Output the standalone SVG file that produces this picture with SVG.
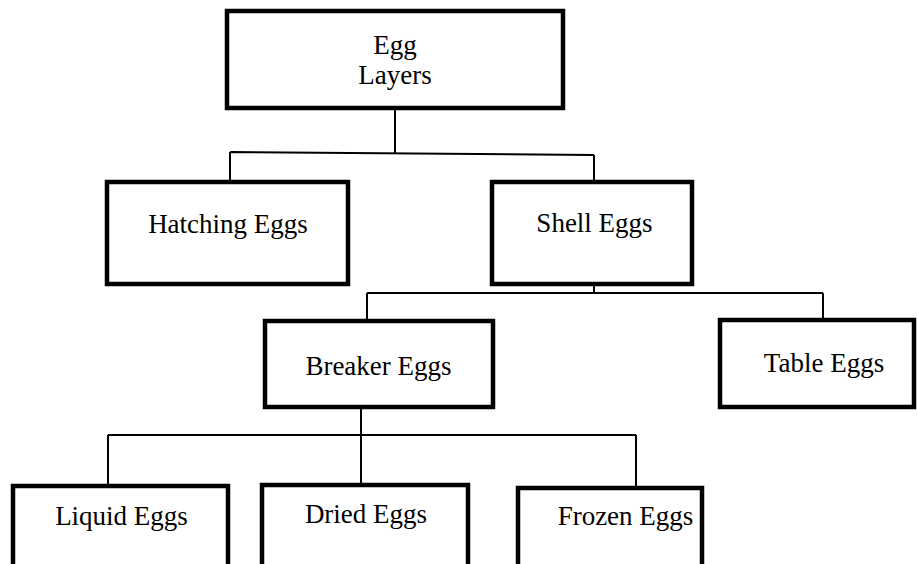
<svg xmlns="http://www.w3.org/2000/svg" width="917" height="564" viewBox="0 0 917 564">
<style>
.box{fill:#fff;stroke:#000;stroke-width:4.5}
.lbl{font-family:"Liberation Serif","Times New Roman",serif;font-size:27px;fill:#000;text-anchor:middle}
.con{fill:none;stroke:#000;stroke-width:2}
</style>
<rect width="917" height="564" fill="#fff"/>
<g id="connectors">
<path class="con" d="M395 108 V153 M230 152 L594 155 M230 152 V181 M594 155 V181"/>
<path class="con" d="M594 285 V293 M367 293 H823 M367 293 V321 M823 293 V320"/>
<path class="con" d="M361 407 V435 M108 435 H636 M108 435 V485 M361 435 V484 M636 435 V487"/>
</g>
<g id="egg-layers">
<rect class="box" x="227" y="11" width="336" height="97"/>
<text class="lbl" x="395" y="54">Egg</text>
<text class="lbl" x="395" y="84">Layers</text>
</g>
<g id="hatching-eggs">
<rect class="box" x="107" y="182" width="241" height="102"/>
<text class="lbl" x="228" y="233">Hatching Eggs</text>
</g>
<g id="shell-eggs">
<rect class="box" x="492" y="182" width="200" height="102"/>
<text class="lbl" x="594.5" y="232">Shell Eggs</text>
</g>
<g id="breaker-eggs">
<rect class="box" x="265" y="321" width="228" height="86"/>
<text class="lbl" x="378.5" y="375">Breaker Eggs</text>
</g>
<g id="table-eggs">
<rect class="box" x="720" y="320" width="194" height="87"/>
<text class="lbl" x="824" y="372">Table Eggs</text>
</g>
<g id="liquid-eggs">
<rect class="box" x="13" y="486" width="215" height="100"/>
<text class="lbl" x="121.5" y="525">Liquid Eggs</text>
</g>
<g id="dried-eggs">
<rect class="box" x="262" y="485" width="206" height="100"/>
<text class="lbl" x="366" y="523">Dried Eggs</text>
</g>
<g id="frozen-eggs">
<rect class="box" x="518" y="488" width="184" height="100"/>
<text class="lbl" x="625.5" y="525">Frozen Eggs</text>
</g>
</svg>
